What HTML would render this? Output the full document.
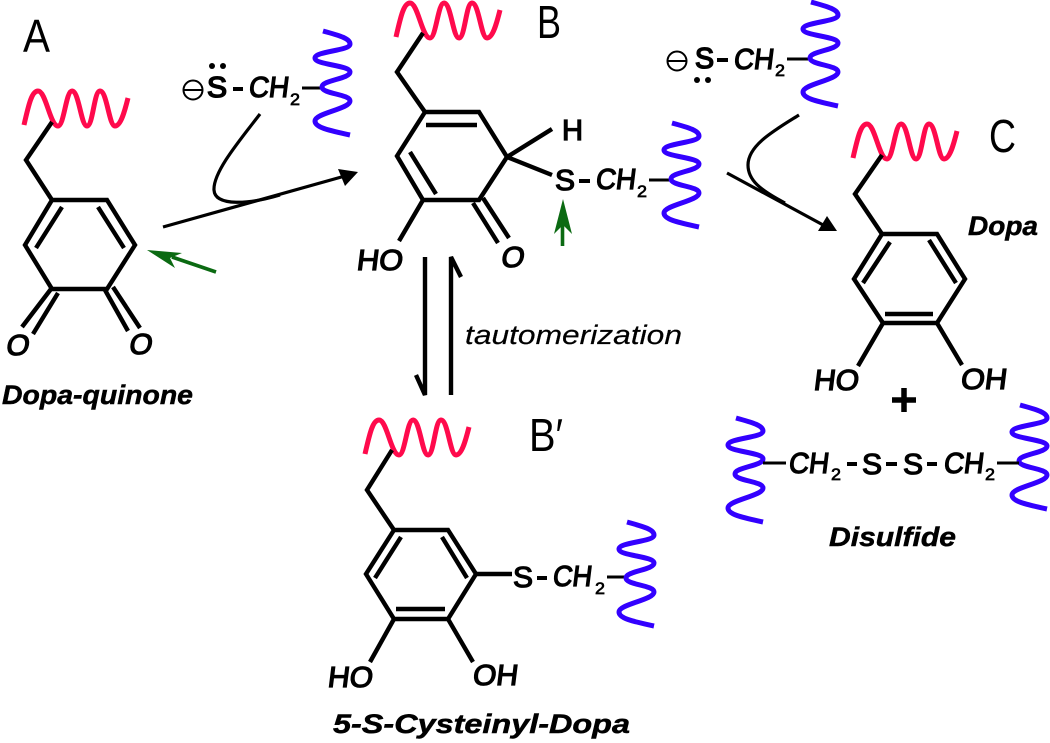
<!DOCTYPE html>
<html><head><meta charset="utf-8"><style>
html,body{margin:0;padding:0;background:#fff}
svg{display:block;filter:blur(.35px)}
.b{fill:none;stroke:#000;stroke-width:4.4;stroke-linecap:butt;stroke-linejoin:miter}
.t{fill:none;stroke:#000;stroke-width:3}
.a{fill:none;stroke:#000;stroke-width:3.2}
text{font-family:"Liberation Sans",sans-serif;fill:#000}
.l{font-size:29px;stroke:#000;stroke-width:1.3}
.li{font-size:29px;stroke:#000;stroke-width:1.3}
.s{font-size:17px;stroke:#000;stroke-width:.7}
.big{font-size:46px}
.n{font-size:27px;font-style:italic;font-weight:bold;stroke:#000;stroke-width:.5}
.ta{font-size:27px;font-style:italic;stroke:#000;stroke-width:.2}
.d{stroke:#000;stroke-width:4;fill:none}
</style></head><body>
<svg width="1050" height="743" viewBox="0 0 1050 743" xmlns="http://www.w3.org/2000/svg">
<defs>
<path id="red" fill="none" stroke="#ff0a4c" stroke-width="5" d="M24,125 C29,103 32,91 38,91 C46,91 50,126 58,126 C64,126 66,91 72,91 C79,91 81,126 87,126 C93,126 94,91 100,91 C107,91 109,126 115,126 C121,126 125,110 128,98"/>
<path id="blue" fill="none" stroke="#3300ff" stroke-width="5" d="M811,2 C825,6 838,9 838,15 C838,22 803,22 803,29 C803,36 838,36 838,43 C838,50 810,51 810,58 C810,65 838,65 838,72 C838,80 803,84 803,92 C803,99 820,102 838,106"/>
</defs>

<!-- labels -->
<text class="big" x="23" y="52" textLength="27" lengthAdjust="spacingAndGlyphs">A</text>
<text class="big" x="537" y="38" textLength="24" lengthAdjust="spacingAndGlyphs">B</text>
<text class="big" x="989" y="152" textLength="27" lengthAdjust="spacingAndGlyphs">C</text>
<text class="big" x="529" y="451" textLength="34" lengthAdjust="spacingAndGlyphs">B′</text>

<!-- A: Dopa-quinone -->
<use href="#red"/>
<path class="b" d="M52,122 L26,160 L52,200 L107,200 L135,245 L107,289 L52,289 L25,245 L52,200"/>
<path class="b" d="M62,207 L36,248 M98,207 L124,248 M51,289 L22,327 M58,293 L33,334 M105,290 L128,331 M113,287 L140,328"/>
<text class="li" transform="translate(5,355) skewX(-10)" textLength="23" lengthAdjust="spacingAndGlyphs">O</text>
<text class="li" transform="translate(128,354) skewX(-10)" textLength="23" lengthAdjust="spacingAndGlyphs">O</text>
<text class="n" x="2" y="404" textLength="191" lengthAdjust="spacingAndGlyphs">Dopa-quinone</text>

<!-- thiolate 1 -->
<circle cx="193" cy="90" r="9.5" fill="none" stroke="#000" stroke-width="2"/>
<path d="M184,90 H202" stroke="#000" stroke-width="2"/>
<text class="l" x="207" y="97" textLength="20" lengthAdjust="spacingAndGlyphs" style="stroke-width:1.6">S</text>
<circle cx="212" cy="66" r="3"/><circle cx="223" cy="66" r="3"/>
<path class="d" d="M233,89 H243"/>
<text class="li" transform="translate(248,97) skewX(-7)" textLength="40" lengthAdjust="spacingAndGlyphs">CH</text>
<text class="s" x="290" y="105" textLength="10" lengthAdjust="spacingAndGlyphs">2</text>
<path class="t" d="M302,88 H322"/>
<use href="#blue" transform="translate(-488,29)"/>

<!-- main arrow A->B -->
<path class="a" d="M163,227 L345,176"/>
<path d="M358,172 L338,169 L345,186 Z"/>
<path class="a" d="M260,114 C240,140 213,172 214,190 C215,207 250,204 280,195"/>
<!-- green A -->
<path d="M216,272 L172,257" stroke="#0b6a12" stroke-width="3.6" fill="none"/>
<path d="M147,250 L182,253 L170,258 L175,268 Z" fill="#0b6a12"/>

<!-- B -->
<use href="#red" transform="translate(372,-88)"/>
<path class="b" d="M423,33 L397,72 L425,112 L479,112 L507,157 L479,200 L423,200 L397,156 L425,112"/>
<path class="b" d="M426,125 H477 M410,152 L436,194 M507,157 L552,129 M507,157 L552,175 M473,203 L498,243 M483,198 L509,238 M423,200 L399,241"/>
<text class="li" transform="translate(356,270) skewX(-7)" textLength="46" lengthAdjust="spacingAndGlyphs">HO</text>
<text class="li" transform="translate(500,267) skewX(-10)" textLength="23" lengthAdjust="spacingAndGlyphs">O</text>
<text class="l" x="562" y="140" textLength="21" lengthAdjust="spacingAndGlyphs">H</text>
<text class="l" x="555" y="190" textLength="20" lengthAdjust="spacingAndGlyphs">S</text>
<path class="d" d="M579,181 H590"/>
<text class="li" transform="translate(595,189) skewX(-7)" textLength="40" lengthAdjust="spacingAndGlyphs">CH</text>
<text class="s" x="637" y="197" textLength="10" lengthAdjust="spacingAndGlyphs">2</text>
<path class="t" d="M649,180 H670"/>
<use href="#blue" transform="translate(-139,121)"/>
<path d="M562.5,246 V222" stroke="#0b6a12" stroke-width="3.6" fill="none"/>
<path d="M563,199 L572,234 L563,225 L554,234 Z" fill="#0b6a12"/>

<!-- equilibrium -->
<path class="b" d="M425,257 V395 L416,375"/>
<path class="b" d="M451,395 V257 L461,277"/>
<text class="ta" x="465" y="344" textLength="217" lengthAdjust="spacingAndGlyphs">tautomerization</text>

<!-- thiolate 2 -->
<circle cx="677" cy="61" r="9.5" fill="none" stroke="#000" stroke-width="2"/>
<path d="M668,61 H686" stroke="#000" stroke-width="2"/>
<text class="l" x="695" y="68" textLength="19" lengthAdjust="spacingAndGlyphs" style="stroke-width:1.6">S</text>
<circle cx="697" cy="80" r="3"/><circle cx="708" cy="80" r="3"/>
<path class="d" d="M717,60 H728"/>
<text class="li" transform="translate(733,69) skewX(-7)" textLength="40" lengthAdjust="spacingAndGlyphs">CH</text>
<text class="s" x="775" y="76" textLength="10" lengthAdjust="spacingAndGlyphs">2</text>
<path class="t" d="M787,59 H808"/>
<use href="#blue"/>

<!-- arrow B->C -->
<path class="a" d="M727,173 L825,226"/>
<path d="M837,231 L827,216 L818,231 Z"/>
<path class="a" d="M799,115 C775,130 748,145 748,165 C748,180 760,190 785,203"/>

<!-- C: Dopa -->
<use href="#red" transform="translate(829,33)"/>
<path class="b" d="M882,155 L855,194 L882,234 L937,234 L965,279 L937,323 L883,323 L854,279 L882,234"/>
<path class="b" d="M890,242 L863,283 M929,240 L956,283 M885,314 H933 M883,323 L858,366 M937,323 L962,365"/>
<text class="li" transform="translate(813,390) skewX(-7)" textLength="45" lengthAdjust="spacingAndGlyphs">HO</text>
<text class="li" transform="translate(960,389) skewX(-7)" textLength="46" lengthAdjust="spacingAndGlyphs">OH</text>
<text class="n" x="968" y="235" textLength="70" lengthAdjust="spacingAndGlyphs">Dopa</text>
<path d="M904,388 V412 M892,400 H916" stroke="#000" stroke-width="5.5" fill="none"/>

<!-- Disulfide -->
<use href="#blue" transform="translate(-75,416)"/>
<use href="#blue" transform="translate(209,403)"/>
<path class="t" d="M763,463 H786 M997,463 H1019"/>
<text class="li" transform="translate(788,473) skewX(-7)" textLength="40" lengthAdjust="spacingAndGlyphs">CH</text>
<text class="s" x="831" y="480" textLength="10" lengthAdjust="spacingAndGlyphs">2</text>
<path class="d" d="M847,464 H857 M886,464 H897 M927,464 H937"/>
<text class="l" x="862" y="474" textLength="20" lengthAdjust="spacingAndGlyphs">S</text>
<text class="l" x="903" y="474" textLength="20" lengthAdjust="spacingAndGlyphs">S</text>
<text class="li" transform="translate(943,473) skewX(-7)" textLength="40" lengthAdjust="spacingAndGlyphs">CH</text>
<text class="s" x="985" y="480" textLength="10" lengthAdjust="spacingAndGlyphs">2</text>
<text class="n" x="829" y="546" textLength="127" lengthAdjust="spacingAndGlyphs">Disulfide</text>

<!-- B' -->
<use href="#red" transform="translate(341,329)"/>
<path class="b" d="M392,450 L367,490 L394,530 L448,530 L476,574 L448,619 L394,619 L366,574 L394,530"/>
<path class="b" d="M401,537 L375,578 M442,537 L467,578 M396,609 H445 M476,574 H512 M394,619 L370,662 M448,619 L473,662"/>
<text class="li" transform="translate(327,687) skewX(-7)" textLength="45" lengthAdjust="spacingAndGlyphs">HO</text>
<text class="li" transform="translate(472,685) skewX(-7)" textLength="45" lengthAdjust="spacingAndGlyphs">OH</text>
<text class="l" x="513" y="587" textLength="20" lengthAdjust="spacingAndGlyphs">S</text>
<path class="d" d="M537,578 H547"/>
<text class="li" transform="translate(552,586) skewX(-7)" textLength="39" lengthAdjust="spacingAndGlyphs">CH</text>
<text class="s" x="595" y="594" textLength="10" lengthAdjust="spacingAndGlyphs">2</text>
<path class="t" d="M607,577 H625"/>
<use href="#blue" transform="translate(-184,520)"/>
<text class="n" x="333" y="733" textLength="297" lengthAdjust="spacingAndGlyphs">5-S-Cysteinyl-Dopa</text>
</svg>
</body></html>
